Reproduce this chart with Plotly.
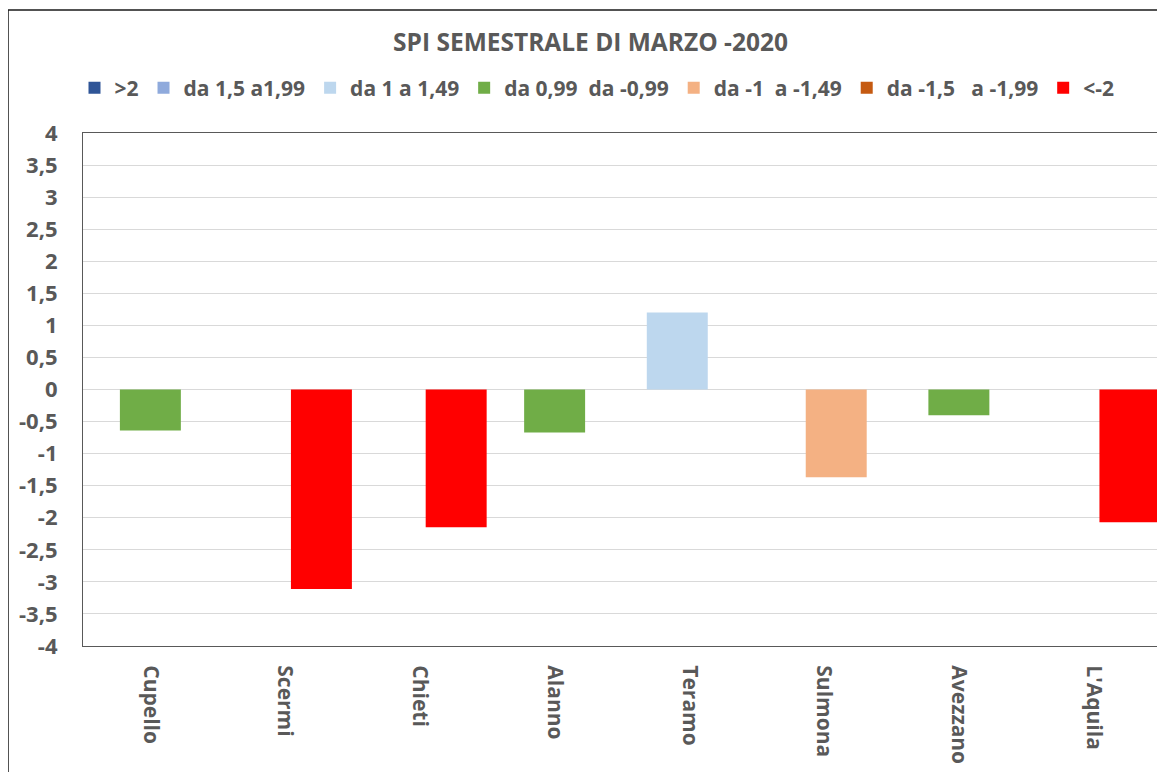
import plotly.graph_objects as go

# ---- data ----
categories = ["Cupello", "Scermi", "Chieti", "Alanno", "Teramo", "Sulmona", "Avezzano", "L'Aquila"]
spi_values = [-0.64, -3.11, -2.15, -0.67, 1.20, -1.37, -0.40, -2.07]
# class index of each station (0 ">2" ... 6 "<-2")
spi_class = [3, 6, 6, 3, 2, 4, 3, 6]

class_labels = [">2", "da 1,5 a1,99", "da 1 a 1,49",
                "da 0,99\u00a0 da -0,99", "da -1\u00a0 a -1,49",
                "da -1,5\u00a0\u00a0 a -1,99", "<-2"]
class_colors = ["#2F5597", "#8FAADC", "#BDD7EE", "#70AD47", "#F4B183", "#C55A11", "#FF0000"]

ytick_values = [4, 3.5, 3, 2.5, 2, 1.5, 1, 0.5, 0, -0.5, -1, -1.5, -2, -2.5, -3, -3.5, -4]
ytick_labels = ["4", "3,5", "3", "2,5", "2", "1,5", "1", "0,5", "0", "-0,5", "-1",
                "-1,5", "-2", "-2,5", "-3", "-3,5", "-4"]

# ---- style ----
FONT = "Open Sans"
TXT = "#595959"
bar_w = 0.4525
step = 0.0898
W, H = 1157, 764  # page body has an 8px margin

fig = go.Figure()
for i, (lab, col) in enumerate(zip(class_labels, class_colors)):
    xs = [c for c, k in zip(categories, spi_class) if k == i]
    ys = [v for v, k in zip(spi_values, spi_class) if k == i]
    if not xs:  # keep empty classes in the legend
        xs, ys = [categories[0]], [None]
    fig.add_trace(go.Bar(
        x=xs, y=ys, name=lab,
        marker=dict(color=col, line=dict(width=0)),
        width=bar_w, offset=(i - 3) * step - bar_w / 2,
    ))

fig.update_layout(
    width=W, height=H,
    barmode="overlay",
    paper_bgcolor="white", plot_bgcolor="white",
    margin=dict(l=75, r=4, t=125, b=126),
    font=dict(family=FONT, color=TXT),
    title=dict(text="SPI SEMESTRALE DI MARZO -2020",
               font=dict(family=FONT, size=24.5, color=TXT, weight="bold"),
               x=582.5 / W, xref="container", xanchor="center",
               y=1 - 34 / H, yref="container", yanchor="middle"),
    legend=dict(orientation="h", traceorder="normal",
                x=589 / W, xref="container", xanchor="center",
                y=1 - 80 / H, yref="container", yanchor="middle",
                font=dict(family=FONT, size=21, color=TXT, weight="bold"),
                itemwidth=30, bgcolor="rgba(0,0,0,0)"),
    showlegend=True,
)

fig.update_xaxes(
    type="category", categoryorder="array", categoryarray=categories,
    range=[-0.5, len(categories) - 0.5],
    showline=True, linecolor="#595959", linewidth=1.2, mirror=True,
    showgrid=False, ticks="", tickangle=90, ticklabelstandoff=14,
    tickfont=dict(family=FONT, size=21, color=TXT, weight="bold"),
)
fig.update_yaxes(
    range=[-4, 4], tickvals=ytick_values, ticktext=ytick_labels,
    showline=True, linecolor="#595959", linewidth=1.2, mirror=True,
    showgrid=True, gridcolor="#D9D9D9", gridwidth=1, zeroline=False,
    ticks="", ticklabelstandoff=20,
    tickfont=dict(family=FONT, size=22, color=TXT, weight="bold"),
)

# outer chart frame
fig.add_shape(type="rect", xref="paper", yref="paper",
              x0=-75 / 1078, x1=1.3, y0=-0.6, y1=(638 - 2) / 513,
              line=dict(color="#1a1a1a", width=1.5), fillcolor="rgba(0,0,0,0)",
              layer="below")

fig.write_html("out.html")
